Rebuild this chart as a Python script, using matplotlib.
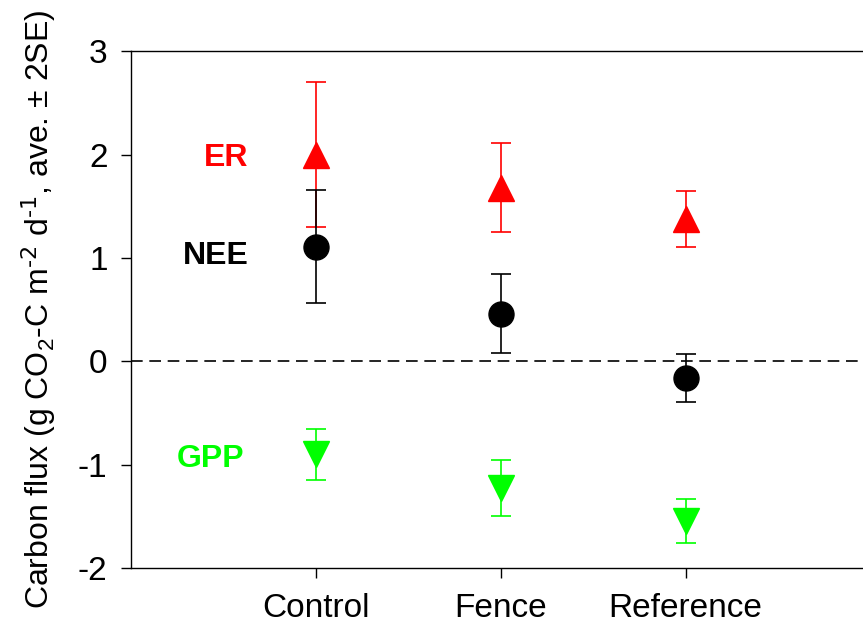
import matplotlib
matplotlib.use("Agg")
import matplotlib.pyplot as plt

plt.rcParams['font.family'] = ['Liberation Sans', 'DejaVu Sans']
plt.rcParams['mathtext.default'] = 'regular'
plt.rcParams['axes.unicode_minus'] = False

sites = ["Control", "Fence", "Reference"]
xpos = [1, 2, 3]

er = [2.0, 1.68, 1.38]
er_se = [0.70, 0.43, 0.27]
nee = [1.11, 0.46, -0.16]
nee_se = [0.55, 0.38, 0.23]
gpp = [-0.90, -1.225, -1.545]
gpp_se = [0.245, 0.27, 0.21]

fig = plt.figure(figsize=(8.63, 6.25), dpi=100)
ax = fig.add_axes([0.152, 0.0912, 0.848, 0.8268])

ax.axhline(0, color='black', lw=1.2, dashes=(7, 4))

common = dict(linestyle='none', capsize=7, elinewidth=1.2, capthick=1.2)
ax.errorbar(xpos, er, yerr=er_se, marker='^', ms=19, color='#ff0000', **common)
ax.errorbar(xpos, nee, yerr=nee_se, marker='o', ms=18, color='black', **common)
ax.errorbar(xpos, gpp, yerr=gpp_se, marker='v', ms=19, color='#00ff00', **common)

ax.text(0.635, 1.97, "ER", color='#ff0000', fontsize=23, fontweight='bold', ha='right', va='center')
ax.text(0.635, 1.02, "NEE", color='black', fontsize=23, fontweight='bold', ha='right', va='center')
ax.text(0.61, -0.95, "GPP", color='#00ff00', fontsize=23, fontweight='bold', ha='right', va='center')

ax.set_xlim(0, 3.96)
ax.set_ylim(-2, 3)
ax.set_yticks([-2, -1, 0, 1, 2, 3])
ax.set_xticks(xpos)
ax.set_xticklabels(sites)
ax.tick_params(direction='out', length=7, width=1, labelsize=24)
ax.tick_params(axis='x', pad=11)
ax.tick_params(axis='y', pad=10)
ax.spines['right'].set_visible(False)
for s in ['left', 'bottom', 'top']:
    ax.spines[s].set_linewidth(1)

ax.set_ylabel(r"Carbon flux (g CO$_2$-C m$^{\text{-2}}$ d$^{\text{-1}}$, ave. ± 2SE)",
              fontsize=23, labelpad=14)

fig.savefig("out.png", dpi=100)
